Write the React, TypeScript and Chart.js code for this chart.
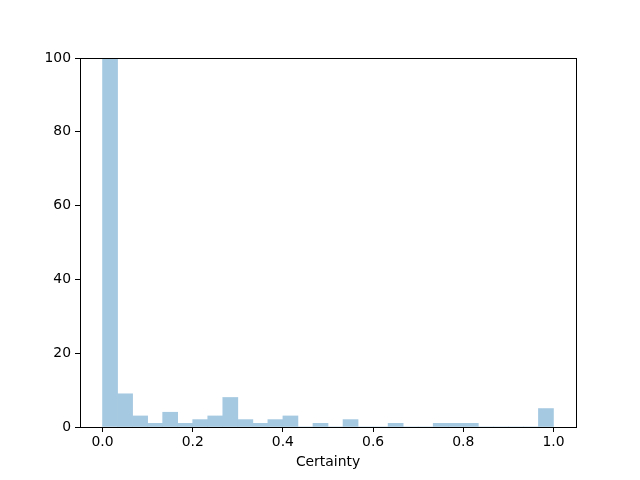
import React, { useEffect, useRef } from "react";
import { Chart, registerables } from "chart.js";

Chart.register(...registerables);

const BIN_MIN = 0;
const BIN_MAX = 1;
const COUNTS = [100, 9, 3, 1, 4, 1, 2, 3, 8, 2, 1, 2, 3, 0, 1, 0, 2, 0, 0, 1, 0, 0, 1, 1, 1, 0, 0, 0, 0, 5];
const X_TICKS = [0, 0.2, 0.4, 0.6, 0.8, 1.0];
const Y_TICKS = [0, 20, 40, 60, 80, 100];
const X_LABEL = "Certainty";

const frame = {
  id: "frame",
  afterDraw(chart: any) {
    const { ctx, chartArea } = chart;
    ctx.save();
    ctx.strokeStyle = "#000";
    ctx.lineWidth = 1;
    ctx.strokeRect(
      Math.round(chartArea.left) + 0.5,
      Math.round(chartArea.top) + 0.5,
      Math.round(chartArea.right - chartArea.left),
      Math.round(chartArea.bottom - chartArea.top)
    );
    ctx.restore();
  },
};

export default function App() {
  const ref = useRef<HTMLCanvasElement | null>(null);
  useEffect(() => {
    document.body.style.margin = "0";
    const width = (BIN_MAX - BIN_MIN) / COUNTS.length;
    const data = COUNTS.map((c, i) => ({ x: BIN_MIN + (i + 0.5) * width, y: c }));
    const font = { family: "DejaVu Sans", size: 13.9 };
    const chart = new Chart(ref.current!, {
      type: "bar",
      data: {
        datasets: [
          {
            data,
            backgroundColor: "rgb(165,201,225)",
            borderWidth: 0,
            barPercentage: 1,
            categoryPercentage: 1,
          } as any,
        ],
      },
      plugins: [frame],
      options: {
        responsive: false,
        animation: false,
        layout: { padding: { top: 58, right: 64, left: 0, bottom: 0 } },
        plugins: { legend: { display: false }, tooltip: { enabled: false } },
        scales: {
          x: {
            type: "linear",
            min: -0.05,
            max: 1.05,
            offset: false,
            afterBuildTicks: (s: any) => {
              s.ticks = X_TICKS.map((v) => ({ value: v }));
            },
            afterFit: (s: any) => {
              s.height = 53;
            },
            ticks: {
              color: "#000",
              font,
              padding: 2,
              maxRotation: 0,
              callback: (v: any) => Number(v).toFixed(1),
            },
            grid: { offset: false, drawOnChartArea: false, drawTicks: true, tickLength: 5, color: "#000" },
            border: { color: "#000" },
            title: { display: true, text: X_LABEL, color: "#000", font, padding: { top: 2, bottom: 9 } },
          },
          y: {
            min: 0,
            max: 100,
            afterBuildTicks: (s: any) => {
              s.ticks = Y_TICKS.map((v) => ({ value: v }));
            },
            afterFit: (s: any) => {
              s.width = 80;
            },
            ticks: { color: "#000", font, padding: 4 },
            grid: { drawOnChartArea: false, drawTicks: true, tickLength: 5, color: "#000" },
            border: { color: "#000" },
          },
        },
      },
    });
    return () => chart.destroy();
  }, []);
  return (
    <div style={{ width: 640, height: 480 }}>
      <canvas ref={ref} width={640} height={480} style={{ display: "block" }} />
    </div>
  );
}
